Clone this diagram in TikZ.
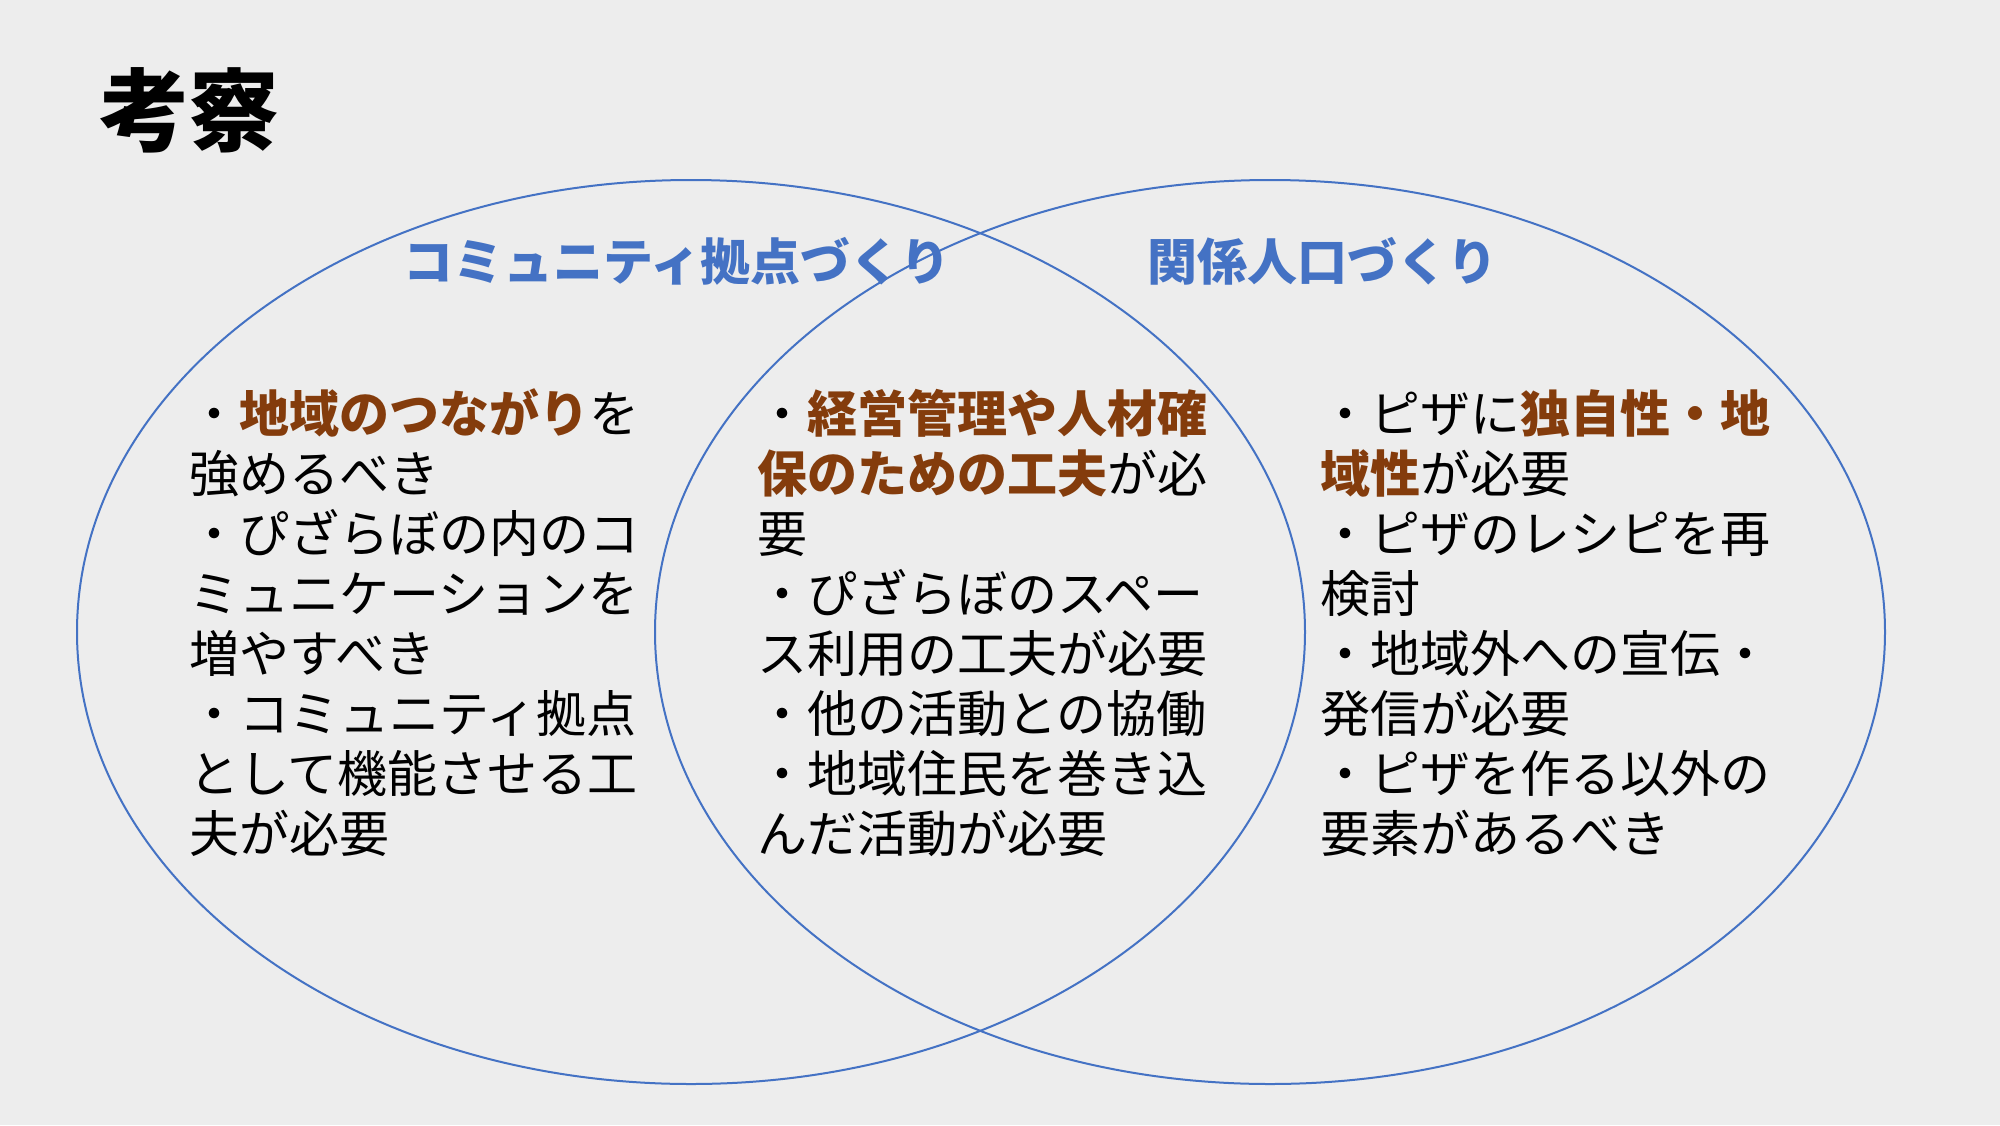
\documentclass[tikz,border=0pt]{standalone}
\usepackage{fontspec}
\setmainfont{Noto Sans CJK JP}
\usepackage{tikz}
\definecolor{slidebg}{HTML}{EDEDED}
\definecolor{vennblue}{HTML}{4472C4}
\definecolor{keybrown}{HTML}{843C0C}
\newcommand{\keyword}[1]{\textbf{\color{keybrown}#1}}

\begin{document}
\begin{tikzpicture}[x=1pt, y=-1pt,
    title/.style={anchor=base west, inner sep=0, font=\fontsize{90}{90}\selectfont\bfseries},
    heading/.style={anchor=base west, inner sep=0, text=vennblue, font=\fontsize{50}{60}\selectfont\bfseries},
    points/.style={anchor=base west, inner sep=0, align=left, font=\fontsize{50}{60}\selectfont},
    venn/.style={draw=vennblue, line width=2}]
    \useasboundingbox (0,0) rectangle (2000,1125);
    \fill[slidebg] (0,0) rectangle (2000,1125);
    \node[title] (kosatsu) at (99,144) {考察};
    \draw[venn] (691,632) ellipse [x radius=614, y radius=452];
    \draw[venn] (1270,632) ellipse [x radius=615, y radius=452];
    \node[heading] (kyoten) at (403,280) {コミュニティ拠点づくり};
    \node[heading] (kankei) at (1147,280) {関係人口づくり};
    % base of a multi-line node = baseline of its last line
    \node[points] (left) at (189,852) {・\keyword{地域のつながり}を\\強めるべき\\・ぴざらぼの内のコ\\ミュニケーションを\\増やすべき\\・コミュニティ拠点\\として機能させる工\\夫が必要};
    \node[points] (both) at (757,852) {・\keyword{経営管理や人材確}\\\keyword{保のための工夫}が必\\要\\・ぴざらぼのスペー\\ス利用の工夫が必要\\・他の活動との協働\\・地域住民を巻き込\\んだ活動が必要};
    \node[points] (right) at (1320,852) {・ピザに\keyword{独自性・地}\\\keyword{域性}が必要\\・ピザのレシピを再\\検討\\・地域外への宣伝・\\発信が必要\\・ピザを作る以外の\\要素があるべき};
\end{tikzpicture}
\end{document}
